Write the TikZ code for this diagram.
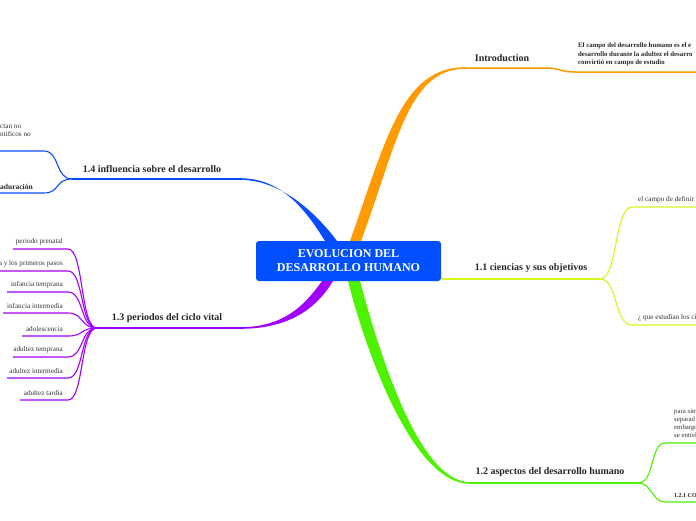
\documentclass[tikz,border=0pt]{standalone}
\usepackage{fontspec}
\setmainfont{Liberation Serif}
\usetikzlibrary{positioning, calc}
\definecolor{rootblue}{HTML}{0050FF}
\definecolor{branchblue}{HTML}{0A4BFF}
\definecolor{branchorange}{HTML}{FF9A00}
\definecolor{branchpurple}{HTML}{A100FF}
\definecolor{branchyellow}{HTML}{D8F520}
\definecolor{branchgreen}{HTML}{4CF200}
\tikzset{
    root_box/.style={rectangle, rounded corners=3pt, fill=rootblue, text=white, align=center, minimum width=185pt, minimum height=40pt, font=\bfseries\fontsize{12}{14}\selectfont},
    topic_text/.style={inner sep=0pt, font=\bfseries\fontsize{10}{12}\selectfont, text=black!85},
    leaf_text/.style={inner sep=0pt, align=left, font=\fontsize{7.2}{8}\selectfont, text=black!80},
    note_text/.style={inner sep=0pt, align=left, font=\bfseries\fontsize{6.8}{8.5}\selectfont, text=black!85},
    topic_line/.style={line width=1.5pt},
    leaf_line/.style={line width=1.1pt}
}

\begin{document}
\begin{tikzpicture}[x=1pt, y=-1pt]

    \useasboundingbox (0,0) rectangle (696,520);
    \clip (0,0) rectangle (696,520);

    % Hubs
    \coordinate (intro_l) at (465,68);
    \coordinate (intro_r) at (546,68);
    \coordinate (c11_hub) at (600,279);
    \coordinate (c12_l) at (470,483);
    \coordinate (c12_hub) at (638,483);
    \coordinate (c13_l) at (240,328);
    \coordinate (c13_hub) at (97,328);
    \coordinate (c14_l) at (240,179);
    \coordinate (c14_hub) at (72,179);

    % Main branches (tapered)
    \fill[branchorange] (350,250) -- (350,241) .. controls (386,140) and (402,67.2) .. ($(intro_l)+(0,-0.8)$)
        -- ($(intro_l)+(0,0.8)$) .. controls (408,68.8) and (397,144) .. (361,241) -- (361,250) -- cycle;
    \fill[branchblue] (325,250) -- (325,241) .. controls (304,207) and (280,178.2) .. ($(c14_l)+(0,-0.8)$)
        -- ($(c14_l)+(0,0.8)$) .. controls (281,179.8) and (316,213) .. (337,241) -- (337,250) -- cycle;
    \fill[branchpurple] (322,272) -- (322,281) .. controls (305,305) and (284,327.2) .. ($(c13_l)+(0,-0.8)$)
        -- ($(c13_l)+(0,0.8)$) .. controls (286,328.8) and (315,311) .. (333,281) -- (333,272) -- cycle;
    \fill[branchgreen] (348,272) -- (348,281) .. controls (366,352) and (413,483.8) .. ($(c12_l)+(0,0.8)$)
        -- ($(c12_l)+(0,-0.8)$) .. controls (418,482.2) and (378,348) .. (360,281) -- (360,272) -- cycle;

    % Root
    \node[root_box] (root) at (348.5,261) {EVOLUCION DEL\\DESARROLLO HUMANO};

    % Introduction
    \draw[branchorange, topic_line] (intro_l) -- (intro_r) .. controls (560,68) and (560,72) .. (575,72) -- (700,72);
    \node[topic_text, anchor=south] (intro) at (502,62) {Introduction};
    \node[note_text, anchor=north west] (intro_note) at (578,43)
    {El campo del desarrollo humano es el e\\desarrollo durante la adultez el desarro\\convirtió en campo de estudio};

    % 1.1
    \draw[branchyellow, topic_line] ($(root.east)+(0,18)$) -- (c11_hub);
    \node[topic_text, anchor=south] (c11) at (531,273) {1.1 ciencias y sus objetivos};
    \draw[branchyellow, leaf_line] (c11_hub) .. controls (618,279) and (614,207) .. (632,207) -- (700,207);
    \draw[branchyellow, leaf_line] (c11_hub) .. controls (618,279) and (614,325) .. (632,325) -- (700,325);
    \node[leaf_text, anchor=south west] (c11_a) at (638,203) {el campo de definir c};
    \node[leaf_text, anchor=south west] (c11_b) at (638,321) {¿ que estudian los ci};

    % 1.2
    \draw[branchgreen, topic_line] (c12_l) -- (c12_hub);
    \node[topic_text, anchor=south] (c12) at (550,477) {1.2 aspectos del desarrollo humano};
    \draw[branchgreen, leaf_line] (c12_hub) .. controls (655,483) and (650,443) .. (665,443) -- (700,443);
    \draw[branchgreen, leaf_line] (c12_hub) .. controls (652,483) and (652,502) .. (665,502) -- (700,502);
    \node[leaf_text, anchor=north west, font=\fontsize{6.8}{7.9}\selectfont] (c12_a) at (674,409)
    {para sim\\separad\\embargo\\se entrel};
    \node[note_text, anchor=south west, font=\bfseries\fontsize{6}{7}\selectfont] (c12_b) at (674,498) {1.2.1 CO};

    % 1.3
    \draw[branchpurple, topic_line] (c13_l) -- (c13_hub);
    \node[topic_text, anchor=south] (c13) at (167,323) {1.3 periodos del ciclo vital};

    % Leaves - periods
    \draw[branchpurple, leaf_line] (c13_hub) .. controls (80,328) and (84,249) .. (68,249) -- (13,249);
    \draw[branchpurple, leaf_line] (c13_hub) .. controls (80,328) and (84,271) .. (68,271) -- (-5,271);
    \draw[branchpurple, leaf_line] (c13_hub) .. controls (80,328) and (84,292) .. (68,292) -- (7,292);
    \draw[branchpurple, leaf_line] (c13_hub) .. controls (80,328) and (84,313) .. (68,313) -- (3,313);
    \draw[branchpurple, leaf_line] (c13_hub) .. controls (80,328) and (84,336) .. (68,336) -- (22,336);
    \draw[branchpurple, leaf_line] (c13_hub) .. controls (80,328) and (84,357) .. (68,357) -- (13,357);
    \draw[branchpurple, leaf_line] (c13_hub) .. controls (80,328) and (84,378) .. (68,378) -- (7,378);
    \draw[branchpurple, leaf_line] (c13_hub) .. controls (80,328) and (84,400) .. (68,400) -- (20,400);
    \node[leaf_text, anchor=south east] (p1) at (63,245) {periodo prenatal};
    \node[leaf_text, anchor=south east] (p2) at (63,267) {a y los primeros pasos};
    \node[leaf_text, anchor=south east] (p3) at (63,288) {infancia temprana};
    \node[leaf_text, anchor=south east] (p4) at (63,309) {infancia intermedia};
    \node[leaf_text, anchor=south east] (p5) at (63,332) {adolescencia};
    \node[leaf_text, anchor=south east] (p6) at (63,353) {adultez temprana};
    \node[leaf_text, anchor=south east] (p7) at (63,374) {adultez intermedia};
    \node[leaf_text, anchor=south east] (p8) at (63,396) {adultez tardia};

    % 1.4
    \draw[branchblue, topic_line] (c14_l) -- (c14_hub);
    \node[topic_text, anchor=south] (c14) at (152,173) {1.4 influencia sobre el desarrollo};
    \draw[branchblue, leaf_line] (c14_hub) .. controls (55,179) and (60,151) .. (44,151) -- (-5,151);
    \draw[branchblue, leaf_line] (c14_hub) .. controls (55,179) and (60,193) .. (44,193) -- (-5,193);
    \node[leaf_text, anchor=north west] (c14_a) at (0,124) {ctan no\\ntificos no};
    \node[note_text, anchor=south west, font=\bfseries\fontsize{7.5}{9}\selectfont] (c14_b) at (0,190) {aduración};

\end{tikzpicture}
\end{document}
